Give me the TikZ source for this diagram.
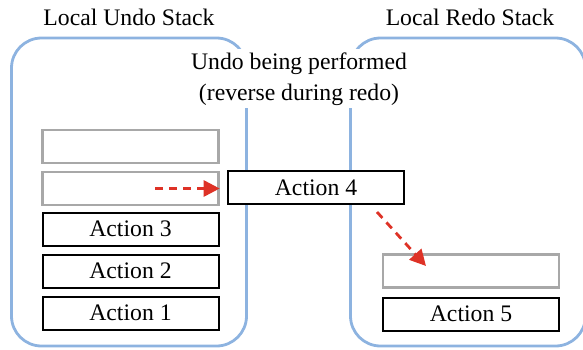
\documentclass[tikz,border=0pt]{standalone}
\usepackage{fontspec}
\setmainfont{Liberation Serif}
\usetikzlibrary{arrows.meta}

\definecolor{stackblue}{RGB}{141,179,224}
\definecolor{slotgray}{RGB}{168,168,168}
\definecolor{moveRed}{RGB}{222,50,38}

\tikzset{
  container/.style={draw=stackblue, line width=1.4pt, rounded corners=15pt,
    minimum width=117.5pt, minimum height=154pt, inner sep=0pt},
  action/.style={draw=black, line width=1pt, fill=white,
    minimum width=88pt, minimum height=16.5pt, inner sep=0pt},
  slot/.style={action, draw=slotgray, line width=1.2pt},
  mover/.style={draw=moveRed, line width=1.4pt, dash pattern=on 4pt off 3pt,
    -{Triangle[length=8pt,width=8pt]}},
  title/.style={anchor=base}
}

\begin{document}
\begin{tikzpicture}[x=0.5pt, y=-0.5pt,
    font=\fontsize{11.85}{15.5}\selectfont]
  \useasboundingbox (0,0) rectangle (583,349);
  \begin{scope}
    \clip (0,0) rectangle (583,349);

    % the two stacks
    \node[container] (undo) at (129,192) {};
    \node[container] (redo) at (468,192) {};
    \node[title] (undoT) at (129,25) {Local Undo Stack};
    \node[title] (redoT) at (470,25) {Local Redo Stack};

    % label over the gap between the stacks
    \node[fill=white, align=center, anchor=north, inner xsep=2pt, inner ysep=1.5pt]
      (note) at (299,49) {Undo being performed\\(reverse during redo)};

    % undo stack contents
    \node[slot]   (g1) at (130.5,146.5) {};
    \node[slot]   (g2) at (130.5,188.5) {};
    \node[action] (a3) at (130.5,229) {Action 3};
    \node[action] (a2) at (130.5,271) {Action 2};
    \node[action] (a1) at (130.5,313) {Action 1};

    % action in flight
    \node[action] (a4) at (316,187.5) {Action 4};

    % redo stack contents
    \node[slot]   (g3) at (471,271) {};
    \node[action] (a5) at (471,314) {Action 5};

    % moves
    \coordinate (m1) at (155,188.5);
    \draw[mover] (m1) -- (g2.east);
    \coordinate (m2a) at (377,212);
    \coordinate (m2b) at (426,266);
    \draw[mover] (m2a) -- (m2b);
  \end{scope}
\end{tikzpicture}
\end{document}
